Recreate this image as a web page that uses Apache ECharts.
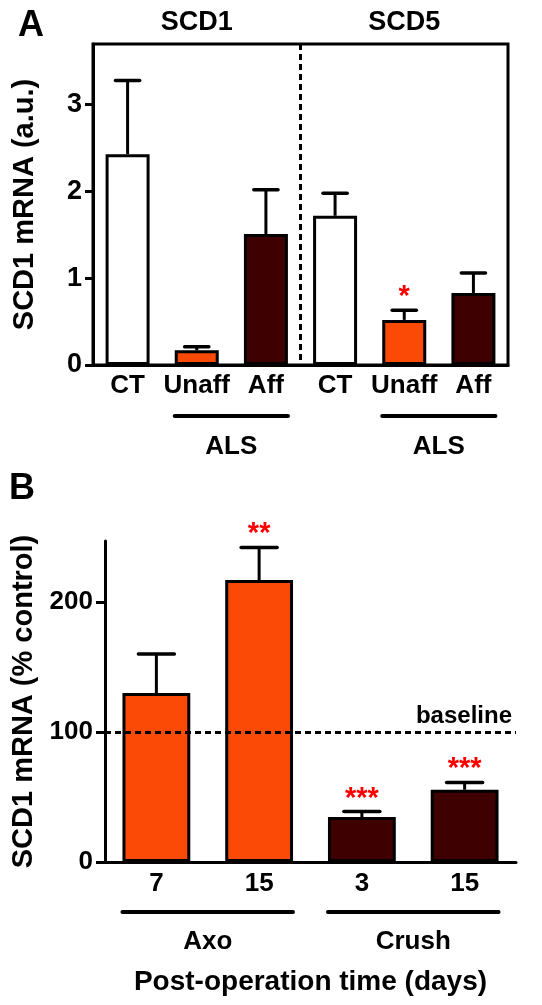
<!DOCTYPE html>
<html><head><meta charset="utf-8">
<script src="https://cdn.jsdelivr.net/npm/echarts@6/dist/echarts.min.js"></script>
<style>html,body{margin:0;padding:0;background:#fff}#c{width:542px;height:1005px}</style>
</head><body><div id="c"></div>
<script>
// ---- Panel A data ----
const genesA = ['SCD1', 'SCD5'];
const conditionsA = ['CT', 'Unaff', 'Aff'];
const valuesA = [2.43, 0.17, 1.51, 1.72, 0.52, 0.83];
const semA = [0.85, 0.04, 0.51, 0.26, 0.11, 0.23];
const sigA = ['', '', '', '', '*', ''];
const ticksA = [0, 1, 2, 3];
const alsGroupsA = [[1, 2], [4, 5]];
const alsLabelsA = ['ALS', 'ALS'];

// ---- Panel B data ----
const groupsB = ['Axo', 'Crush'];
const daysB = [7, 15, 3, 15];
const groupOfB = ['Axo', 'Axo', 'Crush', 'Crush'];
const valuesB = [130, 217, 34.6, 55.6];
const semB = [30, 25, 4.2, 5.6];
const sigB = ['', '**', '***', '***'];
const ticksB = [0, 100, 200];
const baselineB = 100;

const FONT = '"Liberation Sans", Arial, sans-serif';
const ORANGE = '#fa4a06';
const MAROON = '#3e0000';
const condColor = { CT: '#ffffff', Unaff: ORANGE, Aff: MAROON };
const groupColor = { Axo: ORANGE, Crush: MAROON };

const catsA = [];
genesA.forEach(g => conditionsA.forEach(c => catsA.push(g + '|' + c)));
const catsB = daysB.map((d, i) => groupOfB[i] + '|' + d + '|' + i);
const bracketsB = groupsB.map(g => {
  const idx = groupOfB.map((x, i) => x === g ? i : -1).filter(i => i >= 0);
  return [idx[0], idx[idx.length - 1], 0];
});

const maxA = 3.7, maxB = 247;
const barFracA = 0.636, barFracB = 0.66;

function errRender(sig, starOff) {
  return function (params, api) {
    const i = api.value(0), v = api.value(1), t = api.value(2);
    const p0 = api.coord([i, v]);
    const p1 = api.coord([i, t]);
    const band = api.size([1, 0])[0];
    const cw = band * 0.175;
    const ch = [
      { type: 'line', shape: { x1: p0[0], y1: p0[1], x2: p1[0], y2: p1[1] }, style: { stroke: '#000', lineWidth: 3 } },
      { type: 'line', shape: { x1: p1[0] - cw, y1: p1[1], x2: p1[0] + cw, y2: p1[1] }, style: { stroke: '#000', lineWidth: 3.5, lineCap: 'round' } }
    ];
    const s = sig[params.dataIndex];
    if (s) ch.push({ type: 'text', style: { text: s, x: p1[0], y: p1[1] - starOff, align: 'center', verticalAlign: 'middle', fill: '#ff0000', fontSize: 29, fontWeight: 'bold', fontFamily: FONT } });
    return { type: 'group', children: ch };
  };
}
function bracketRender(labels, frac, lineOff, textOff) {
  return function (params, api) {
    const a = api.coord([api.value(0), 0]);
    const b = api.coord([api.value(1), 0]);
    const half = api.size([1, 0])[0] * frac / 2;
    return { type: 'group', children: [
      { type: 'line', shape: { x1: a[0] - half, y1: a[1] + lineOff, x2: b[0] + half, y2: a[1] + lineOff }, style: { stroke: '#000', lineWidth: 4, lineCap: 'round' } },
      { type: 'text', style: { text: labels[params.dataIndex], x: (a[0] + b[0]) / 2, y: a[1] + textOff, align: 'center', verticalAlign: 'middle', fill: '#000', fontSize: 26, fontWeight: 'bold', fontFamily: FONT } }
    ] };
  };
}

const chart = echarts.init(document.getElementById('c'), null, { renderer: 'canvas' });
chart.setOption({
  animation: false,
  backgroundColor: '#fff',
  textStyle: { fontFamily: FONT },
  title: [
    { text: 'A', left: 13, top: 3, textStyle: { fontSize: 36, fontWeight: 'bold', fontFamily: FONT, color: '#000' } },
    { text: 'B', left: 4, top: 466, textStyle: { fontSize: 36, fontWeight: 'bold', fontFamily: FONT, color: '#000' } }
  ],
  grid: [
    { left: 93, top: 44, right: 34, bottom: 640, show: true, borderColor: '#000', borderWidth: 3, backgroundColor: 'transparent' },
    { left: 105, top: 541, right: 26, bottom: 143 }
  ],
  xAxis: [
    { type: 'category', gridIndex: 0, data: catsA, boundaryGap: true,
      axisLine: { show: true, lineStyle: { color: '#000', width: 3 } },
      axisTick: { show: false },
      axisLabel: { formatter: v => v.split('|')[1], color: '#000', fontSize: 26, fontWeight: 'bold', fontFamily: FONT, margin: 8, interval: 0 } },
    { type: 'category', gridIndex: 0, position: 'top', data: genesA,
      axisLine: { show: false }, axisTick: { show: false },
      axisLabel: { color: '#000', fontSize: 27, fontWeight: 'bold', fontFamily: FONT, margin: 8, interval: 0 } },
    { type: 'category', gridIndex: 1, data: catsB, boundaryGap: true,
      axisLine: { show: true, lineStyle: { color: '#000', width: 3 } },
      axisTick: { show: false },
      axisLabel: { formatter: v => v.split('|')[1], color: '#000', fontSize: 26, fontWeight: 'bold', fontFamily: FONT, margin: 9, interval: 0 },
      name: 'Post-operation time (days)', nameLocation: 'middle', nameGap: 106,
      nameTextStyle: { fontSize: 28, fontWeight: 'bold', fontFamily: FONT, color: '#000' } }
  ],
  yAxis: [
    { type: 'value', gridIndex: 0, min: 0, max: maxA,
      axisLine: { show: true, lineStyle: { color: '#000', width: 3 } },
      axisTick: { show: true, length: 8, lineStyle: { color: '#000', width: 3 }, customValues: ticksA },
      axisLabel: { customValues: ticksA, color: '#000', fontSize: 27, fontWeight: 'bold', fontFamily: FONT, margin: 11 },
      splitLine: { show: false },
      name: 'SCD1 mRNA (a.u.)', nameLocation: 'middle', nameRotate: 90, nameGap: 54,
      nameTextStyle: { fontSize: 29, fontWeight: 'bold', fontFamily: FONT, color: '#000' } },
    { type: 'value', gridIndex: 1, min: 0, max: maxB,
      axisLine: { show: true, lineStyle: { color: '#000', width: 3 } },
      axisTick: { show: true, length: 9, lineStyle: { color: '#000', width: 3 }, customValues: ticksB },
      axisLabel: { customValues: ticksB, color: '#000', fontSize: 26, fontWeight: 'bold', fontFamily: FONT, margin: 12 },
      splitLine: { show: false },
      name: 'SCD1 mRNA (% control)', nameLocation: 'middle', nameRotate: 90, nameGap: 66,
      nameTextStyle: { fontSize: 29, fontWeight: 'bold', fontFamily: FONT, color: '#000' } }
  ],
  series: [
    { type: 'bar', xAxisIndex: 0, yAxisIndex: 0, barCategoryGap: ((1 - barFracA) * 100).toFixed(1) + '%',
      data: valuesA.map((v, i) => ({ value: v, itemStyle: { color: condColor[catsA[i].split('|')[1]] } })),
      itemStyle: { borderColor: '#000', borderWidth: 3 } },
    { type: 'custom', xAxisIndex: 0, yAxisIndex: 0, renderItem: errRender(sigA, 13),
      encode: { x: 0, y: [1, 2] }, data: valuesA.map((v, i) => [i, v, v + semA[i]]), z: 5 },
    { type: 'custom', xAxisIndex: 0, yAxisIndex: 0, encode: { x: 0, y: 1 }, data: [[conditionsA.length - 1, 0]], z: 5,
      renderItem: function (params, api) {
        const c = api.coord([api.value(0), 0]);
        const top = api.coord([api.value(0), maxA]);
        const x = c[0] + api.size([1, 0])[0] / 2;
        return { type: 'line', shape: { x1: x, y1: top[1], x2: x, y2: c[1] }, style: { stroke: '#000', lineWidth: 3, lineDash: [6, 4] } };
      } },
    { type: 'custom', xAxisIndex: 0, yAxisIndex: 0, encode: { x: [0, 1], y: 2 }, data: alsGroupsA.map(g => [g[0], g[1], 0]),
      renderItem: bracketRender(alsLabelsA, barFracA, 51, 82) },
    { type: 'bar', xAxisIndex: 2, yAxisIndex: 1, barCategoryGap: ((1 - barFracB) * 100).toFixed(1) + '%',
      data: valuesB.map((v, i) => ({ value: v, itemStyle: { color: groupColor[groupOfB[i]] } })),
      itemStyle: { borderColor: '#000', borderWidth: 3 },
      markLine: { silent: true, symbol: 'none', data: [{ yAxis: baselineB }],
        lineStyle: { color: '#000', width: 3, type: [6, 4] },
        label: { show: true, position: 'insideEndTop', formatter: 'baseline', color: '#000', fontSize: 24, fontWeight: 'bold', fontFamily: FONT, distance: 4 } } },
    { type: 'custom', xAxisIndex: 2, yAxisIndex: 1, renderItem: errRender(sigB, 13),
      encode: { x: 0, y: [1, 2] }, data: valuesB.map((v, i) => [i, v, v + semB[i]]), z: 5 },
    { type: 'custom', xAxisIndex: 2, yAxisIndex: 1, encode: { x: [0, 1], y: 2 }, data: bracketsB,
      renderItem: bracketRender(groupsB, barFracB, 50, 80) }
  ]
});
</script></body></html>
